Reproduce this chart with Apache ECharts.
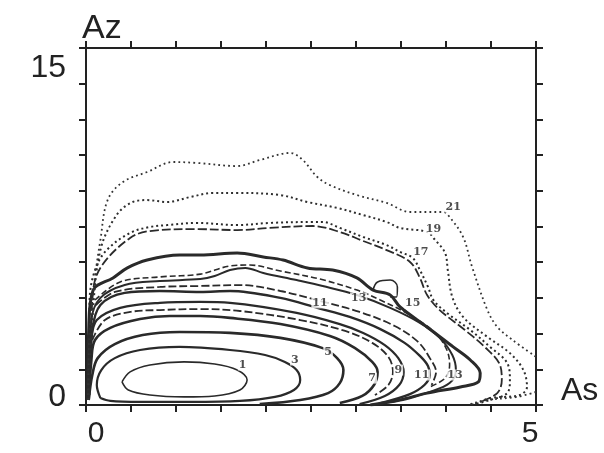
<!DOCTYPE html>
<html>
<head>
<meta charset="utf-8">
<script src="https://cdn.jsdelivr.net/npm/echarts@6/dist/echarts.min.js"></script>
<style>html,body{margin:0;padding:0;background:#fff;}#c{width:604px;height:453px;}</style>
</head>
<body>
<div id="c"></div>
<script>
// Axis ticks
var xTickLabels = [0, 5];
var yTickLabels = [0, 15];

// Contour lines, [As, Az]
var c1 = [[0.4,0.97],[0.49,1.39],[0.71,1.68],[1.09,1.81],[1.43,1.72],[1.68,1.47],[1.79,1.05],[1.71,0.63],[1.43,0.38],[1.09,0.34],[0.71,0.42],[0.47,0.63],[0.4,0.97]];
var c3 = [[0.16,0.29],[0.12,0.84],[0.17,1.47],[0.32,1.97],[0.6,2.31],[1.04,2.44],[1.6,2.31],[1.99,2.1],[2.21,1.81],[2.34,1.47],[2.38,1.05],[2.31,0.63],[2.1,0.34],[1.71,0.17],[1.16,0.13],[0.6,0.13],[0.27,0.17],[0.16,0.29]];
var c5 = [[0.03,0.21],[0.07,1.26],[0.13,1.97],[0.32,2.56],[0.63,2.94],[1.04,3.07],[1.6,3.03],[2.16,2.82],[2.63,2.39],[2.79,1.97],[2.86,1.47],[2.82,0.92],[2.69,0.5],[2.38,0.21],[1.93,0.04]];
var c7 = [[0.03,0.21],[0.06,1.89],[0.1,2.73],[0.27,3.24],[0.6,3.61],[0.93,3.74],[1.27,3.74],[1.6,3.66],[2.16,3.4],[2.71,2.9],[2.99,2.39],[3.18,1.81],[3.24,1.39],[3.2,0.84],[3.07,0.38],[2.82,0.08]];
var c8 = [[0.07,2.73],[0.21,3.57],[0.49,3.91],[0.82,3.99],[1.27,4.03],[1.71,3.95],[2.38,3.57],[2.88,3.11],[3.18,2.61],[3.36,2.02],[3.41,1.39],[3.36,0.84],[3.21,0.42]];
var c9 = [[0.03,0.21],[0.06,2.73],[0.12,3.57],[0.38,4.08],[0.82,4.29],[1.27,4.33],[1.6,4.29],[2.34,3.87],[2.82,3.4],[3.08,3.03],[3.32,2.52],[3.47,1.97],[3.53,1.39],[3.48,0.84],[3.32,0.38],[3.04,0.04]];
var c11 = [[0.03,0.21],[0.07,3.15],[0.16,4.2],[0.43,4.71],[0.82,4.79],[1.27,4.75],[1.6,4.79],[2.16,4.5],[2.57,4.08],[2.93,3.7],[3.27,3.19],[3.54,2.61],[3.71,2.06],[3.8,1.64],[3.82,1.26],[3.76,0.84],[3.6,0.46],[3.27,0.08]];
var c12 = [[0.11,4.2],[0.32,4.75],[0.82,4.96],[1.27,5.0],[1.71,5.04],[2.16,4.79],[2.6,4.37],[3.04,3.91],[3.43,3.32],[3.69,2.65],[3.82,1.97],[3.89,1.39],[3.84,0.84]];
var c13 = [[0.03,0.21],[0.06,3.57],[0.16,4.5],[0.43,5.04],[0.82,5.21],[1.27,5.29],[1.43,5.42],[1.6,5.67],[1.77,5.76],[1.97,5.55],[2.34,5.25],[2.63,5.0],[3.01,4.62],[3.38,4.08],[3.71,3.45],[3.93,2.82],[4.07,2.1],[4.11,1.47],[4.04,0.92],[3.82,0.55],[3.49,0.21],[3.16,0]];
var c14 = [[0.1,4.41],[0.38,5.17],[0.82,5.38],[1.27,5.5],[1.6,5.84],[1.82,5.88],[2.16,5.63],[2.6,5.29],[3.01,4.83],[3.27,4.41],[3.6,3.78],[3.88,3.03],[4.01,2.31],[4.04,1.68],[3.99,1.13],[3.82,0.76]];
var c15 = [[0.02,0.21],[0.03,3.15],[0.08,4.83],[0.3,5.34],[0.46,5.76],[0.68,6.09],[1.04,6.3],[1.27,6.3],[1.68,6.39],[1.97,6.22],[2.19,6.09],[2.46,5.76],[2.74,5.67],[3.01,5.34],[3.19,4.83],[3.38,4.62],[3.49,4.12],[3.79,3.28],[4.08,2.44],[4.27,1.89],[4.38,1.34],[4.36,0.97],[4.16,0.76],[3.79,0.5],[3.49,0.21],[3.16,0]];
var c15loop = [[3.19,4.83],[3.24,5.17],[3.38,5.25],[3.46,4.96],[3.45,4.54],[3.38,4.54]];
var c16 = [[0.04,0.42],[0.08,4.83],[0.18,5.88],[0.49,7.02],[0.71,7.31],[1.23,7.39],[1.68,7.35],[2.04,7.44],[2.52,7.52],[2.82,7.27],[3.08,6.89],[3.34,6.51],[3.6,6.01],[3.71,5.34],[3.79,4.62],[3.93,3.99],[4.21,3.15],[4.43,2.44],[4.6,1.68],[4.62,1.05],[4.57,0.5],[4.38,0.13]];
var c17 = [[0.03,0.21],[0.04,4.41],[0.1,5.67],[0.23,6.51],[0.49,7.23],[0.71,7.48],[0.9,7.56],[1.23,7.65],[1.68,7.56],[2.04,7.65],[2.52,7.69],[2.63,7.69],[2.82,7.44],[3.08,7.06],[3.34,6.72],[3.49,6.43],[3.63,6.18],[3.71,5.67],[3.8,4.96],[3.86,4.41],[4.01,3.87],[4.27,3.15],[4.49,2.44],[4.68,1.76],[4.71,1.05],[4.68,0.5],[4.49,0.21],[4.27,0]];
var c19 = [[0.03,0.21],[0.07,3.57],[0.16,6.51],[0.34,7.98],[0.52,8.53],[0.68,8.61],[0.9,8.53],[1.16,8.74],[1.41,8.91],[1.68,8.91],[2.16,8.82],[2.46,8.53],[2.79,8.28],[3.08,7.98],[3.34,7.69],[3.49,7.44],[3.79,7.27],[3.88,6.93],[3.99,6.39],[4.02,5.67],[4.07,4.54],[4.19,3.7],[4.46,2.86],[4.71,2.18],[4.86,1.47],[4.9,0.76],[4.82,0.42],[4.49,0.29],[4.32,0.04]];
var c21 = [[0.02,0.21],[0.04,3.15],[0.1,5.38],[0.16,6.93],[0.24,8.61],[0.41,9.37],[0.68,9.79],[0.97,10.21],[1.23,10.17],[1.68,10.04],[1.93,10.29],[2.27,10.59],[2.41,10.29],[2.57,9.58],[2.71,9.24],[3.01,8.82],[3.34,8.49],[3.6,8.11],[3.97,8.11],[4.04,7.9],[4.19,7.06],[4.29,5.8],[4.46,3.99],[4.57,3.28],[4.74,2.73],[5,2.02]];
var c21b = [[5,0.55],[4.79,0.34],[4.46,0.21],[4.27,0.04]];

// Contour labels
var labelText = ['1','3','5','7','9','11','13','15','17','19','21','11','13'];
var labelX = [1.74,2.32,2.69,3.18,3.47,3.73,4.1,3.63,3.72,3.86,4.08,2.6,3.03];
var labelY = [1.68,1.89,2.23,1.13,1.47,1.26,1.26,4.29,6.43,7.39,8.32,4.29,4.5];

var ink = '#2a2a2a';
function line(data, width, type, color, smooth) {
  return {
    type: 'line', data: data, showSymbol: false, symbol: 'none',
    smooth: smooth === undefined ? 0.35 : smooth, clip: true, silent: true,
    lineStyle: { color: color || ink, width: width, type: type || 'solid' },
    z: 3
  };
}
var labelData = labelText.map(function (t, i) { return { value: [labelX[i], labelY[i]], name: t }; });

var chart = echarts.init(document.getElementById('c'), null, { renderer: 'canvas' });
var axisCommon = {
  axisLine: { show: true, onZero: false, lineStyle: { color: '#222', width: 2 } },
  axisTick: { show: true, inside: false, length: 7, lineStyle: { color: '#222', width: 2 } },
  splitLine: { show: false }
};
var fontFam = '"Liberation Sans", "DejaVu Sans", sans-serif';
chart.setOption({
  backgroundColor: '#ffffff',
  animation: false,
  grid: { left: 86, right: 68, top: 48, bottom: 48 },
  xAxis: [
    Object.assign({ type: 'value', min: 0, max: 5, interval: 0.5, position: 'bottom',
      axisLabel: {
        margin: 14, fontSize: 30, color: '#222', fontFamily: fontFam,
        formatter: function (v) {
          if (Math.abs(v - xTickLabels[0]) < 1e-6) return '{a|' + xTickLabels[0] + '}';
          if (Math.abs(v - xTickLabels[1]) < 1e-6) return '{b|' + xTickLabels[1] + '}';
          return '';
        },
        rich: {
          a: { fontSize: 30, color: '#222', fontFamily: fontFam, padding: [0, 0, 0, 20] },
          b: { fontSize: 30, color: '#222', fontFamily: fontFam, padding: [0, 12, 0, 0] }
        }
      } }, axisCommon),
    Object.assign({ type: 'value', min: 0, max: 5, interval: 0.5, position: 'top', axisLabel: { show: false } }, axisCommon)
  ],
  yAxis: [
    Object.assign({ type: 'value', min: 0, max: 15, interval: 1.5, position: 'left',
      axisLabel: {
        margin: 20, fontSize: 32, color: '#222', fontFamily: fontFam,
        formatter: function (v) {
          if (Math.abs(v - yTickLabels[0]) < 1e-6) return '{lo|' + yTickLabels[0] + '}';
          if (Math.abs(v - yTickLabels[1]) < 1e-6) return '{hi|' + yTickLabels[1] + '}';
          return '';
        },
        rich: {
          lo: { fontSize: 32, color: '#222', fontFamily: fontFam, padding: [0, 0, 16, 0] },
          hi: { fontSize: 32, color: '#222', fontFamily: fontFam, padding: [40, 0, 0, 0] }
        }
      } }, axisCommon),
    Object.assign({ type: 'value', min: 0, max: 15, interval: 1.5, position: 'right', axisLabel: { show: false } }, axisCommon)
  ],
  graphic: [
    { type: 'text', left: 82, top: 12, style: { text: 'Az', fontSize: 34, fill: '#222', fontFamily: fontFam } },
    { type: 'text', left: 561, top: 375, style: { text: 'As', fontSize: 32, fill: '#222', fontFamily: fontFam } }
  ],
  series: [
    line(c1, 1.6),
    line(c3, 2.2),
    line(c5, 2.6),
    line(c7, 2.6),
    line(c8, 1.8, [8, 3]),
    line(c9, 2.2),
    line(c11, 2.4),
    line(c12, 1.8, [8, 3]),
    line(c13, 2.0),
    line(c14, 1.6, [6, 3]),
    line(c15, 3.0),
    line(c15loop, 1.6, 'solid', ink, 0.4),
    line(c16, 1.8, [9, 3]),
    line(c17, 2.0, [2, 3]),
    line(c19, 2.0, [2, 3], '#2f2f2f'),
    line(c21, 1.8, [1.8, 3.2], '#333'),
    line(c21b, 1.8, [1.8, 3.2], '#333'),
    {
      type: 'scatter', data: labelData, symbolSize: 0, silent: true, z: 5,
      label: {
        show: true, position: 'inside', formatter: '{b}', fontSize: 11, fontWeight: 'bold',
        color: '#222', fontFamily: '"DejaVu Serif", serif', backgroundColor: '#fff', padding: [0, 1]
      }
    }
  ]
});
</script>
</body>
</html>
